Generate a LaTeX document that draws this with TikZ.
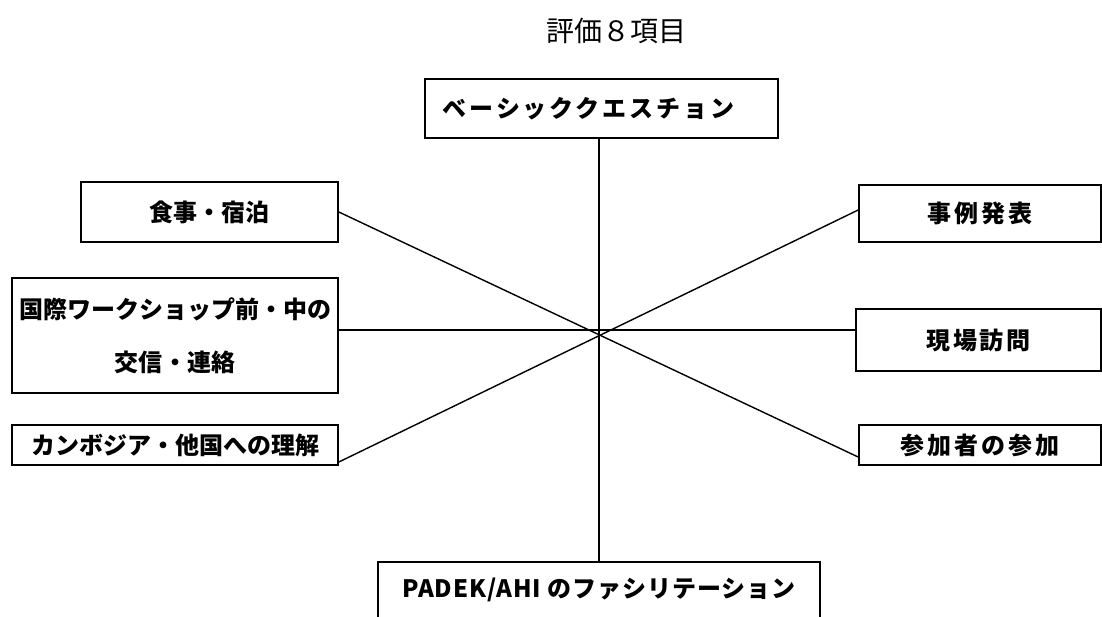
\documentclass[tikz,border=0pt]{standalone}
\usepackage{fontspec}
\setmainfont{Noto Sans CJK JP}
\begin{document}
\begin{tikzpicture}[x=1pt,y=-1pt,
  box/.style={draw,line width=1.7pt,inner sep=0pt,font=\fontsize{24}{24}\selectfont\bfseries,align=center},
  wide/.style={font=\fontsize{24}{24}\selectfont\bfseries\addfontfeature{LetterSpace=12}},
  conn/.style={line width=1.4pt}]
\useasboundingbox (0,0) rectangle (1102,616);
\node[font=\fontsize{28}{28}\selectfont] (title) at (616,31) {評価８項目};
\node[box,wide,minimum width=353pt,minimum height=59pt] (bq) at (601.5,108.5) {ベーシッククエスチョン\hspace*{26pt}};
\node[box,minimum width=257pt,minimum height=60pt] (meal) at (209.5,212) {食事・宿泊};
\node[box,minimum width=326pt,minimum height=115pt,font=\fontsize{24}{53}\selectfont\bfseries] (comm) at (175,335.5) {国際ワークショップ前・中の\\交信・連絡};
\node[box,minimum width=326pt,minimum height=40pt] (camb) at (175,445) {カンボジア・他国への理解};
\node[box,wide,minimum width=242pt,minimum height=57pt] (case) at (980,213.5) {事例発表};
\node[box,wide,minimum width=245pt,minimum height=62pt] (visit) at (978.5,340) {現場訪問};
\node[box,wide,minimum width=242pt,minimum height=40pt] (part) at (980,445) {参加者の参加};
\node[box,minimum width=442pt,minimum height=64pt,text depth=0pt,font=\fontsize{24}{24}\selectfont\bfseries\addfontfeature{LetterSpace=4}] (fac) at (599,594) {\raisebox{12pt}{PADEK/AHI のファシリテーション}};
\draw[conn] ([xshift=-2.5pt]bq.south) -- (fac.north);
\draw[conn] (meal.east) -- ([yshift=-12pt]part.west);
\draw[conn] ([yshift=3.5pt]case.west) -- ([yshift=-17pt]camb.east);
\draw[conn] ([yshift=5.5pt]comm.east) -- ([yshift=10pt]visit.west);
\end{tikzpicture}
\end{document}
